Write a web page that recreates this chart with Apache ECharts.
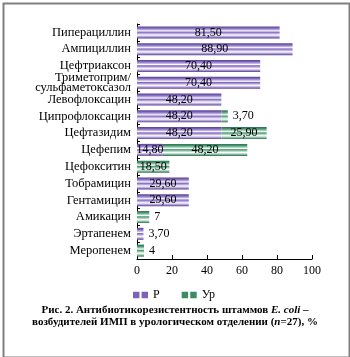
<!DOCTYPE html>
<html>
<head>
<meta charset="utf-8">
<script src="https://cdn.jsdelivr.net/npm/echarts@6/dist/echarts.min.js"></script>
<style>html,body{margin:0;padding:0;background:#fff}#c{width:350px;height:357px}</style>
</head>
<body>
<div id="c"></div>
<script>
const categories = ['Пиперациллин','Ампициллин','Цефтриаксон','Триметоприм/\nсульфаметоксазол','Левофлоксацин','Ципрофлоксацин','Цефтазидим','Цефепим','Цефокситин','Тобрамицин','Гентамицин','Амикацин','Эртапенем','Меропенем'];
const valuesR  = [81.5, 88.9, 70.4, 70.4, 48.2, 48.2, 48.2, 14.8, null, 29.6, 29.6, null, 3.7, null];
const valuesUr = [null, null, null, null, null, 3.7, 25.9, 48.2, 18.5, null, null, 7, null, 4];
const xTicks = [0, 20, 40, 60, 80, 100];
const seriesNames = ['Р', 'Ур'];

const FONT = '"Liberation Serif", "DejaVu Serif", serif';

function fmt(v) {
  return Number.isInteger(v) ? String(v) : v.toFixed(2).replace('.', ',');
}
function stripe(dark, mid, light) {
  return new echarts.graphic.LinearGradient(0, 0, 0, 1, [
    {offset: 0, color: dark},
    {offset: 0.15, color: mid},
    {offset: 0.3, color: light},
    {offset: 0.38, color: '#ffffff'},
    {offset: 0.48, color: mid},
    {offset: 0.62, color: light},
    {offset: 0.72, color: '#ffffff'},
    {offset: 0.82, color: light},
    {offset: 1, color: dark}
  ]);
}
const purple = stripe('#5a3f95', '#8069bd', '#c6b9e6');
const green = stripe('#2a7150', '#4a9672', '#b2d8c3');

function makeData(arr) {
  return arr.map(v => {
    if (v == null) return null;
    const item = {value: v};
    if (v < 10) item.label = {position: 'right'};
    return item;
  });
}

const chart = echarts.init(document.getElementById('c'));
chart.setOption({
  animation: false,
  backgroundColor: '#fff',
  grid: {left: 137, right: 38, top: 24, bottom: 98, containLabel: false},
  xAxis: {
    type: 'value', min: 0, max: 100, interval: 20,
    axisLine: {show: true, lineStyle: {color: '#000', width: 1}},
    axisTick: {show: true, inside: true, length: 4, lineStyle: {color: '#000'}},
    splitLine: {show: false},
    axisLabel: {color: '#000', fontFamily: FONT, fontSize: 12, margin: 6,
      formatter: v => xTicks.includes(v) ? String(v) : ''}
  },
  yAxis: {
    type: 'category', data: categories, inverse: true,
    axisLine: {show: true, lineStyle: {color: '#000', width: 1}},
    axisTick: {show: true, inside: true, length: 3, lineStyle: {color: '#000'}},
    axisLabel: {color: '#000', fontFamily: FONT, fontSize: 12.5, margin: 6, lineHeight: 10,
      align: 'right', interval: 0, hideOverlap: false}
  },
  legend: {
    left: 128, top: 284, itemGap: 22, itemWidth: 15, itemHeight: 7,
    icon: 'path://M0,0h6v6h-6z M8,0h6v6h-6z',
    textStyle: {color: '#000', fontFamily: FONT, fontSize: 12},
    data: [
      {name: seriesNames[0], itemStyle: {color: '#7c63b8'}},
      {name: seriesNames[1], itemStyle: {color: '#3d8a64'}}
    ]
  },
  series: [
    {
      name: seriesNames[0], type: 'bar', stack: 'a', barWidth: 12,
      data: makeData(valuesR),
      itemStyle: {color: purple},
      label: {show: true, position: 'inside', color: '#000', fontFamily: FONT, fontSize: 12,
        formatter: p => fmt(p.value)}
    },
    {
      name: seriesNames[1], type: 'bar', stack: 'a', barWidth: 12,
      data: makeData(valuesUr),
      itemStyle: {color: green},
      label: {show: true, position: 'inside', color: '#000', fontFamily: FONT, fontSize: 12,
        formatter: p => fmt(p.value)}
    }
  ],
  graphic: [
    {type: 'rect', left: 1, top: 1, shape: {width: 346, height: 354},
      style: {fill: 'none', stroke: '#808080', lineWidth: 2}, silent: true},
    {type: 'text', left: 'center', top: 305,
      style: {
        text: '{b|Рис. 2. Антибиотикорезистентность штаммов }{i|E. coli}{b| –}\n{b|возбудителей ИМП в урологическом отделении (}{i|n}{b|=27), %}',
        align: 'center',
        rich: {
          b: {fontFamily: FONT, fontWeight: 'bold', fontSize: 11, lineHeight: 12, fill: '#000', align: 'center'},
          i: {fontFamily: FONT, fontWeight: 'bold', fontStyle: 'italic', fontSize: 11, lineHeight: 12, fill: '#000', align: 'center'}
        }
      }}
  ]
});
</script>
</body>
</html>
